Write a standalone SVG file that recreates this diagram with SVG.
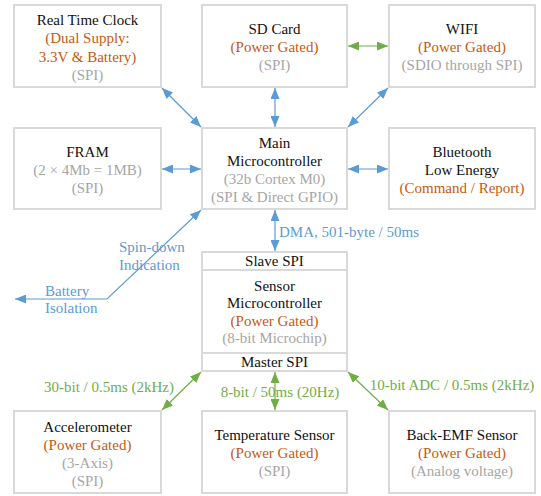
<svg xmlns="http://www.w3.org/2000/svg" width="541" height="496" viewBox="0 0 541 496">
<defs>
<style>
.box{fill:#fff;stroke:#d9d9d9;stroke-width:2}
text{font-family:'Liberation Serif','Tinos','Times New Roman','DejaVu Serif',serif;font-size:15px;text-anchor:middle}
.t{fill:#111}
.o{fill:#c55a11}
.g{fill:#a6a6a6}
.bl{fill:#5b9bd5}
.gl{fill:#70ad47}
.l{text-anchor:start}
.cb{fill:none;stroke:#5b9bd5;stroke-width:1.2;marker-start:url(#ab);marker-end:url(#ab)}
.cg{fill:none;stroke:#70ad47;stroke-width:1.2;marker-start:url(#ag);marker-end:url(#ag)}
</style>
<marker id="ab" markerUnits="userSpaceOnUse" markerWidth="11" markerHeight="9" refX="11" refY="4.5" orient="auto-start-reverse"><path d="M0,0L11,4.5L0,9z" fill="#5b9bd5"/></marker>
<marker id="ag" markerUnits="userSpaceOnUse" markerWidth="11" markerHeight="9" refX="11" refY="4.5" orient="auto-start-reverse"><path d="M0,0L11,4.5L0,9z" fill="#70ad47"/></marker>
</defs>
<rect width="541" height="496" fill="#fff"/>
<g font-family="Liberation Serif, DejaVu Serif, serif">
<g id="connectors">
<path class="cb" d="M162,88L201,127"/>
<path class="cb" d="M275,88L275,127"/>
<path class="cb" d="M388,88L348,127"/>
<path class="cb" d="M162,169L201,169"/>
<path class="cb" d="M348,169L388,169"/>
<path class="cb" d="M275,210L275,251"/>
<path class="cb" d="M15,299L107,299L201,210"/>
<path class="cg" d="M348,46L388,46"/>
<path class="cg" d="M201,372L162,410"/>
<path class="cg" d="M275,372L275,410"/>
<path class="cg" d="M348,372L388,410"/>
<text class="bl l" x="279" y="237">DMA, 501-byte / 50ms</text>
<text class="bl l" x="119" y="252">Spin-down</text>
<text class="bl l" x="119" y="270">Indication</text>
<text class="bl l" x="45" y="296">Battery</text>
<text class="bl l" x="45" y="313">Isolation</text>
<text class="gl" x="109" y="392">30-bit / 0.5ms (2kHz)</text>
<text class="gl" x="280" y="397">8-bit / 50ms (20Hz)</text>
<text class="gl" x="452" y="390">10-bit ADC / 0.5ms (2kHz)</text>
</g>
<g id="rtc">
<rect class="box" x="14" y="5" width="147" height="82"/>
<text class="t" x="87.5" y="25">Real Time Clock</text>
<text class="o" x="87.5" y="43">(Dual Supply:</text>
<text class="o" x="87.5" y="62">3.3V &amp; Battery)</text>
<text class="g" x="87.5" y="80">(SPI)</text>
</g>
<g id="sdcard">
<rect class="box" x="202" y="5" width="145" height="82"/>
<text class="t" x="274.5" y="34">SD Card</text>
<text class="o" x="274.5" y="52">(Power Gated)</text>
<text class="g" x="274.5" y="70">(SPI)</text>
</g>
<g id="wifi">
<rect class="box" x="389" y="5" width="146" height="82"/>
<text class="t" x="462" y="34">WIFI</text>
<text class="o" x="462" y="52">(Power Gated)</text>
<text class="g" x="462" y="70">(SDIO through SPI)</text>
</g>
<g id="fram">
<rect class="box" x="14" y="128" width="147" height="81"/>
<text class="t" x="87.5" y="157">FRAM</text>
<text class="g" x="87.5" y="175">(2 × 4Mb = 1MB)</text>
<text class="g" x="87.5" y="193">(SPI)</text>
</g>
<g id="main">
<rect class="box" x="202" y="128" width="145" height="81"/>
<text class="t" x="274.5" y="148">Main</text>
<text class="t" x="274.5" y="166">Microcontroller</text>
<text class="g" x="274.5" y="184">(32b Cortex M0)</text>
<text class="g" x="274.5" y="202">(SPI &amp; Direct GPIO)</text>
</g>
<g id="ble">
<rect class="box" x="389" y="128" width="146" height="81"/>
<text class="t" x="462" y="157">Bluetooth</text>
<text class="t" x="462" y="175">Low Energy</text>
<text class="o" x="462" y="193">(Command / Report)</text>
</g>
<g id="sensor">
<rect class="box" x="202" y="252" width="145" height="119"/>
<line x1="202" y1="270" x2="347" y2="270" stroke="#d9d9d9" stroke-width="2"/>
<line x1="202" y1="353" x2="347" y2="353" stroke="#d9d9d9" stroke-width="2"/>
<text class="t" x="274.5" y="266">Slave SPI</text>
<text class="t" x="274.5" y="291">Sensor</text>
<text class="t" x="274.5" y="308">Microcontroller</text>
<text class="o" x="274.5" y="326">(Power Gated)</text>
<text class="g" x="274.5" y="343">(8-bit Microchip)</text>
<text class="t" x="274.5" y="367">Master SPI</text>
</g>
<g id="accel">
<rect class="box" x="14" y="411" width="147" height="82"/>
<text class="t" x="87.5" y="432">Accelerometer</text>
<text class="o" x="87.5" y="450">(Power Gated)</text>
<text class="g" x="87.5" y="468">(3-Axis)</text>
<text class="g" x="87.5" y="486">(SPI)</text>
</g>
<g id="temp">
<rect class="box" x="202" y="411" width="145" height="82"/>
<text class="t" x="274.5" y="440">Temperature Sensor</text>
<text class="o" x="274.5" y="458">(Power Gated)</text>
<text class="g" x="274.5" y="476">(SPI)</text>
</g>
<g id="bemf">
<rect class="box" x="389" y="411" width="146" height="82"/>
<text class="t" x="462" y="440">Back-EMF Sensor</text>
<text class="o" x="462" y="458">(Power Gated)</text>
<text class="g" x="462" y="476">(Analog voltage)</text>
</g>
</g>
</svg>
